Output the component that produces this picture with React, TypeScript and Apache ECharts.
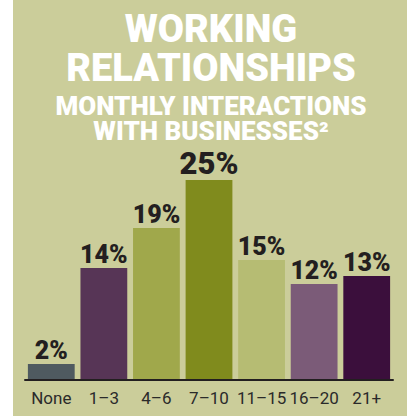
import React, { useEffect, useRef } from "react";
import * as echarts from "echarts";

const categories = ["None", "1–3", "4–6", "7–10", "11–15", "16–20", "21+"];
const values = [2, 14, 19, 25, 15, 12, 13];
const barColors = ["#4f5a60", "#573556", "#a0a84b", "#808b1d", "#b6bc73", "#7b5b78", "#3b0f3c"];
const titleLines = ["WORKING", "RELATIONSHIPS"];
const subtitleLines = ["MONTHLY INTERACTIONS", "WITH BUSINESSES²"];

export default function App() {
  const ref = useRef<HTMLDivElement>(null);
  useEffect(() => {
    if (!ref.current) return;
    const chart = echarts.init(ref.current, null, { renderer: "svg" });
    const font = "Roboto, 'Noto Sans', sans-serif";
    const maxIdx = values.indexOf(Math.max(...values));
    chart.setOption({
      animation: false,
      backgroundColor: "#ffffff",
      graphic: [
        {
          type: "rect",
          z: -10,
          silent: true,
          shape: { x: 13, y: 0, width: 394, height: 416 },
          style: { fill: "#cbcd9a" },
        },
        {
          type: "text",
          x: 211,
          y: 48.5,
          style: {
            text: titleLines.join("\n"),
            fill: "#ffffff",
            font: `900 38px ${font}`,
            lineHeight: 39,
            textAlign: "center",
            textVerticalAlign: "middle",
          },
        },
        {
          type: "text",
          x: 211,
          y: 118.3,
          style: {
            text: subtitleLines.join("\n"),
            fill: "#ffffff",
            font: `900 26px ${font}`,
            lineHeight: 25.5,
            textAlign: "center",
            textVerticalAlign: "middle",
          },
        },
      ],
      grid: { left: 25, right: 21, top: 140, bottom: 36, containLabel: false },
      xAxis: {
        type: "category",
        data: categories,
        axisLine: { show: true, lineStyle: { color: "#231f20", width: 2 } },
        axisTick: { show: false },
        axisLabel: {
          color: "#2a2a2a",
          fontFamily: font,
          fontSize: 17,
          margin: 9,
          interval: 0,
        },
        z: 10,
      },
      yAxis: {
        type: "value",
        min: 0,
        max: 30,
        show: false,
        splitLine: { show: false },
      },
      series: [
        {
          type: "bar",
          barCategoryGap: "11%",
          data: values.map((v, i) => ({
            value: v,
            itemStyle: { color: barColors[i] },
            label: i === maxIdx ? { fontSize: 31 } : undefined,
          })),
          label: {
            show: true,
            position: "top",
            distance: 1,
            formatter: (p: any) => `${p.value}%`,
            color: "#231f20",
            fontFamily: font,
            fontWeight: 900,
            fontSize: 25,
          },
        },
      ],
    });
    return () => chart.dispose();
  }, []);
  return (
    <div
      ref={ref}
      style={{ position: "absolute", left: 0, top: 0, width: 414, height: 416 }}
    />
  );
}
